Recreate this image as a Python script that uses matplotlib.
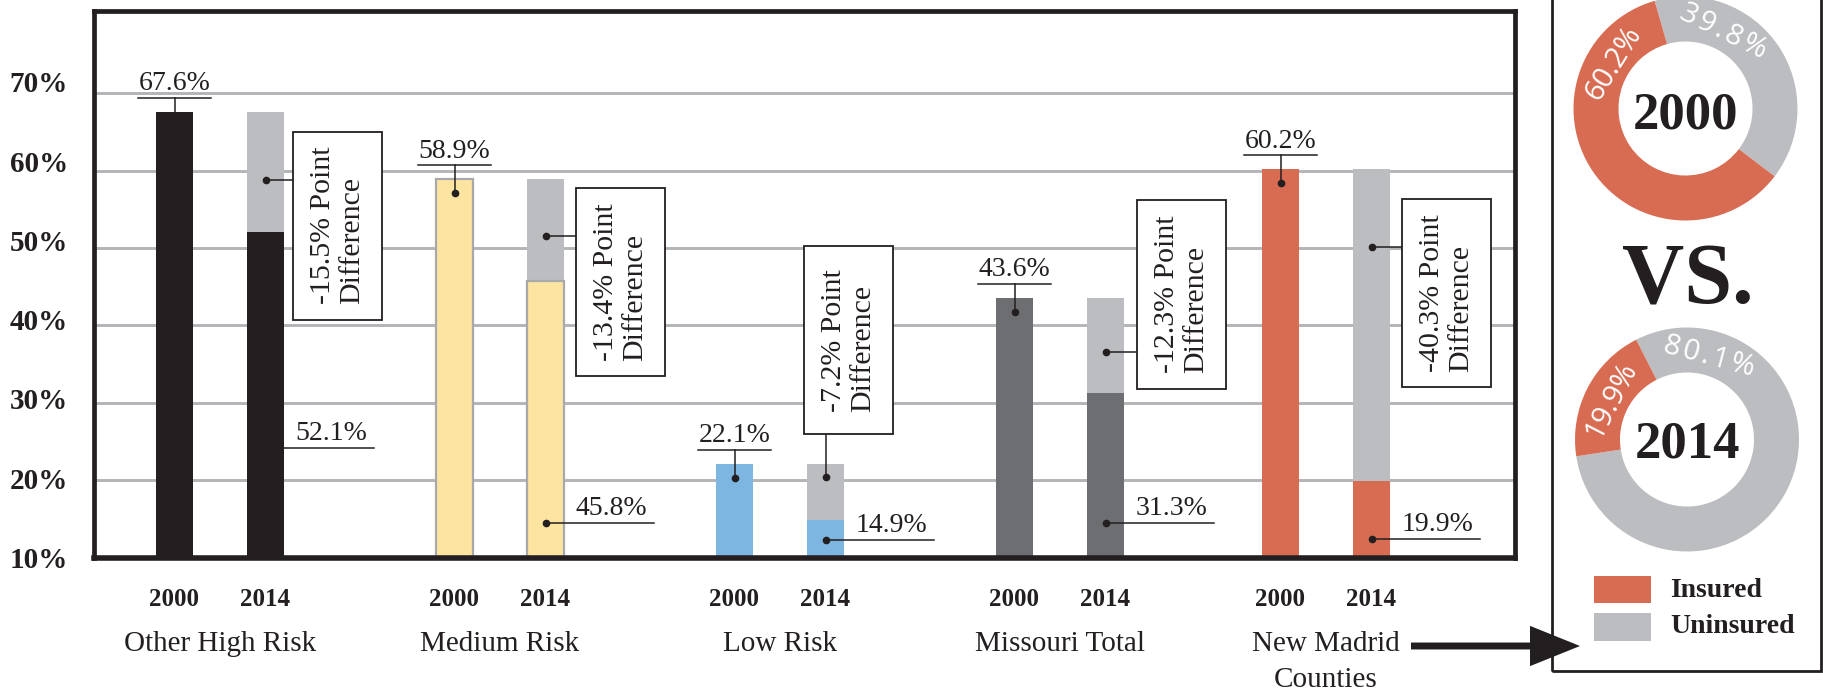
import matplotlib
matplotlib.use("Agg")
import matplotlib.pyplot as plt
import matplotlib.transforms as mtransforms
from matplotlib.patches import Rectangle
import numpy as np

plt.rcParams['font.family'] = ['Liberation Serif', 'DejaVu Serif']

# --- DATOS ---
groups = ["Other High Risk", "Medium Risk", "Low Risk", "Missouri Total", "New Madrid\nCounties"]
years = ["2000", "2014"]
insured_2000 = [67.6, 58.9, 22.1, 43.6, 60.2]
insured_2014 = [52.1, 45.8, 14.9, 31.3, 19.9]
diff_points = [-15.5, -13.4, -7.2, -12.3, -40.3]
yticks = [10, 20, 30, 40, 50, 60, 70]

donut_years = ["2000", "2014"]
donut_insured = [60.2, 19.9]
donut_uninsured = [39.8, 80.1]
legend_labels = ["Insured", "Uninsured"]

# --- COLORES ---
dark = "#231f20"
gap_gray = "#bcbdc0"
grid_gray = "#b3b4b7"
orange = "#d86c52"
bar_colors = [dark, "#fde4a0", "#7eb6e2", "#6d6e72", orange]
bar_edges = ["none", "#a7a9ac", "none", "none", "none"]

# --- LAYOUT (posiciones de grupos y etiquetas) ---
group_x = np.array([0, 1, 2, 3, 3.95])
bar_off = 0.1625
bar_w = 0.132
ins_label_y = [24.2, 14.5, 12.3, 14.5, 12.4]
diff_dot_frac = [0.43, 0.44, 0.77, 0.43, 0.75]
diff_box_dx = [0.42, 0.43, 0.245, 0.434, 0.43]
diff_box_y = [52.9, 45.6, 38.1, 44.0, 44.2]
donut_start = [106, 117]

W, H = 1823, 694
fig = plt.figure(figsize=(W / 100, H / 100), dpi=100)

# --- GRAFICO DE BARRAS ---
ax = fig.add_axes([94 / W, 1 - 557.5 / H, (1515 - 94) / W, (557.5 - 10.6) / H])
ax.set_xlim((94 - 220) / 280, (1515 - 220) / 280)
ax.set_ylim(10, 80.7)
for s in ax.spines.values():
    s.set_linewidth(3.4)
    s.set_color(dark)
ax.spines['bottom'].set_linewidth(4)
ax.set_yticks(yticks)
ax.yaxis.grid(True, color=grid_gray, lw=2.1)
ax.set_axisbelow(True)
ax.tick_params(length=0, labelleft=False, labelbottom=False)
ax.set_xticks([])

x00 = group_x - bar_off
x14 = group_x + bar_off
ins14 = np.array(insured_2014)
tot = np.array(insured_2000)

ax.bar(x00, tot, bar_w, color=bar_colors, edgecolor=bar_edges, lw=1.6, zorder=2)
ax.bar(x14, tot - ins14, bar_w, bottom=ins14, color=gap_gray, zorder=2)
ax.bar(x14, ins14, bar_w, color=bar_colors, edgecolor=bar_edges, lw=1.6, zorder=2)

ylab = mtransforms.blended_transform_factory(ax.transAxes, ax.transData)
for v in yticks:
    ax.text(-0.0183, v + (v - 10) * 0.025, f"{v}%", transform=ylab, ha='right',
            va='center_baseline', fontsize=21, fontweight='bold', color=dark)

xlab = mtransforms.blended_transform_factory(ax.transData, ax.transAxes)
for i, g in enumerate(groups):
    ax.text(x00[i], -0.0887, years[0], transform=xlab, ha='center', va='baseline',
            fontsize=18, fontweight='bold', color=dark)
    ax.text(x14[i], -0.0887, years[1], transform=xlab, ha='center', va='baseline',
            fontsize=18, fontweight='bold', color=dark)
    for j, line in enumerate(g.split("\n")):
        ax.text(group_x[i], -0.171 - j * 36 / 546.9, line, transform=xlab, ha='center',
                va='baseline', fontsize=21, color=dark)

lw_ann = 1.1
for i in range(len(groups)):
    # etiqueta 2000
    v = insured_2000[i]
    bx = x00[i]
    uy = v + 1.8
    ax.plot([bx - 0.132, bx + 0.132], [uy, uy], color=dark, lw=lw_ann, zorder=5)
    ax.plot([bx, bx], [uy, v - 1.8], color=dark, lw=lw_ann, zorder=5)
    ax.plot(bx, v - 1.8, 'o', color=dark, ms=4.5, zorder=6)
    ax.text(bx, uy + 1.0, f"{v}%", ha='center', va='baseline', fontsize=20, color=dark)

    # etiqueta 2014
    v = insured_2014[i]
    bx = x14[i]
    ly = ins_label_y[i]
    ax.plot([bx, bx + 0.386], [ly, ly], color=dark, lw=lw_ann, zorder=5)
    ax.plot(bx, ly, 'o', color=dark, ms=4.5, zorder=6)
    ax.text(bx + 0.235, ly + 1.0, f"{v}%", ha='center', va='baseline', fontsize=20, color=dark)

    # caja de diferencia
    bw, bh = 89 / 280, 188 / 7.73
    cx = group_x[i] + diff_box_dx[i]
    cy = diff_box_y[i]
    ax.add_patch(Rectangle((cx - bw / 2, cy - bh / 2), bw, bh, facecolor='white',
                           edgecolor=dark, lw=1.3, zorder=7))
    ax.text(cx, cy, f"{diff_points[i]}% Point\nDifference", rotation=90, ha='center',
            va='center', multialignment='left', linespacing=1.17, fontsize=21.5,
            color=dark, zorder=8)
    dy = ins14[i] + diff_dot_frac[i] * (tot[i] - ins14[i])
    ax.plot(bx, dy, 'o', color=dark, ms=4.5, zorder=6)
    if bx > cx - bw / 2:
        ax.plot([bx, bx], [dy, cy - bh / 2], color=dark, lw=lw_ann, zorder=5)
    else:
        ax.plot([bx, cx - bw / 2], [dy, dy], color=dark, lw=lw_ann, zorder=5)

# flecha hacia el panel
ax.annotate('', xy=(1580, H - 646), xytext=(1411, H - 646), xycoords='figure pixels',
            textcoords='figure pixels',
            arrowprops=dict(arrowstyle='simple,head_length=3.6,head_width=2.9,tail_width=0.5',
                            mutation_scale=10, color=dark, lw=0, shrinkA=0, shrinkB=0))

# --- PANEL DERECHO (donas) ---
ax2 = fig.add_axes([1523 / W, 0, 300 / W, 1])
py = lambda y: H - y

centers = [(1685.5, py(108.5)), (1687, py(439.5))]
r_out, ring = 112, 45
for k in range(2):
    ax2.pie([donut_uninsured[k], donut_insured[k]], colors=[gap_gray, orange],
            startangle=donut_start[k], counterclock=False, radius=r_out,
            center=centers[k], wedgeprops=dict(width=ring, linewidth=0))
    s = donut_start[k]
    a_u = s - min(42, donut_uninsured[k] * 3.6 / 2)
    a_i = s + min(42, donut_insured[k] * 3.6 / 2)
    # el porcentaje sin seguro va con letras algo espaciadas
    lab_u = "\u200a".join(f"{donut_uninsured[k]}%")
    lab_i = f"{donut_insured[k]}%"
    for ang, lab in [(a_u, lab_u), (a_i, lab_i)]:
        r_lab = 0.76 * r_out
        tx = centers[k][0] + r_lab * np.cos(np.radians(ang))
        ty = centers[k][1] + r_lab * np.sin(np.radians(ang))
        ax2.text(tx, ty, lab, rotation=ang - 90, rotation_mode='anchor',
                 ha='center', va='center', fontsize=21, color='white',
                 family=['Open Sans', 'DejaVu Sans'])

ax2.text(1686, py(128), donut_years[0], ha='center', va='baseline', fontsize=38,
         fontweight='bold', color=dark)
ax2.text(1688, py(458), donut_years[1], ha='center', va='baseline', fontsize=38,
         fontweight='bold', color=dark)
ax2.text(1688, py(303), "VS.", ha='center', va='baseline', fontsize=62,
         fontweight='bold', color=dark)

ax2.add_patch(Rectangle((1594, py(603)), 57, 27, color=orange, lw=0))
ax2.add_patch(Rectangle((1594, py(641)), 57, 28, color=gap_gray, lw=0))
ax2.text(1670, py(597), legend_labels[0], ha='left', va='baseline', fontsize=20,
         fontweight='bold', color=dark)
ax2.text(1670, py(633), legend_labels[1], ha='left', va='baseline', fontsize=20,
         fontweight='bold', color=dark)

ax2.add_patch(Rectangle((1552, py(671)), 1821 - 1552, 700, fill=False, edgecolor=dark, lw=2))

ax2.set_xlim(1523, 1823)
ax2.set_ylim(0, H)
ax2.set_aspect('auto')
ax2.axis('off')

fig.savefig("out.png", dpi=100)
